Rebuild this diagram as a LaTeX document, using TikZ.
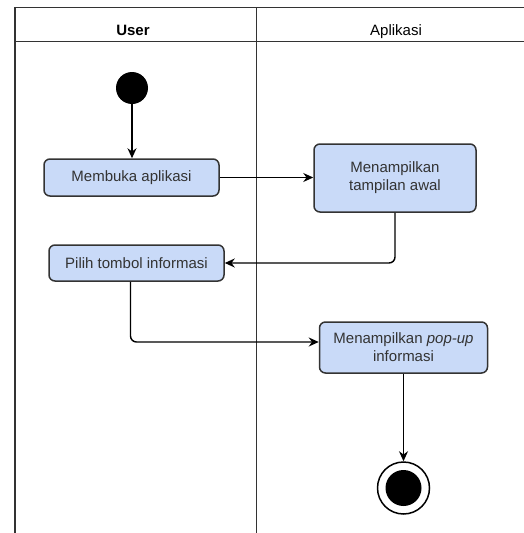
\documentclass[tikz,border=0pt]{standalone}
\usepackage{fontspec}
\setmainfont{Liberation Sans}
\usetikzlibrary{arrows.meta}
\definecolor{boxfill}{HTML}{C9DAF8}
\definecolor{edgegray}{HTML}{333333}
\begin{document}
\begin{tikzpicture}[x=1pt,y=-1pt,
  act/.style={draw=edgegray, line width=1.5pt, fill=boxfill, rounded corners=6pt, align=center,
    font=\fontsize{15}{18}\selectfont, text=edgegray, inner sep=0pt},
  flow/.style={draw=black, line width=1.4pt, -{Stealth[length=10pt,width=9pt]}, rounded corners=6pt},
  lane/.style={draw=edgegray, line width=1.6pt},
  head/.style={font=\fontsize{15}{17}\selectfont, text=black, anchor=base}]
\useasboundingbox (0,0) rectangle (524,533);
\fill[white] (0,0) rectangle (524,533);
% swimlanes
\draw[lane] (524,7.5) -- (15,7.5) -- (15,533);
\draw[lane] (15,41.5) -- (524,41.5);
\draw[lane] (256.5,7.5) -- (256.5,533);
\node[head, font=\bfseries\fontsize{15}{17}\selectfont] (huser) at (133,35) {User};
\node[head] (happ) at (396,35) {Aplikasi};
% nodes
\node[circle, fill=black, minimum size=32pt, inner sep=0pt] (start) at (132,88) {};
\node[act, minimum width=175pt, minimum height=37pt] (buka) at (131.5,177.5) {Membuka aplikasi};
\node[act, minimum width=162pt, minimum height=68pt] (awal) at (395,178) {Menampilkan\\tampilan awal};
\node[act, minimum width=175pt, minimum height=36pt] (pilih) at (136.5,263) {Pilih tombol informasi};
\node[act, minimum width=168pt, minimum height=51pt] (popup) at (403.5,347.5) {Menampilkan \textit{pop-up}\\informasi};
\node[circle, draw=black, line width=1.5pt, fill=white, minimum size=52pt, inner sep=0pt] (end) at (403.5,488) {};
\node[circle, fill=black, minimum size=36pt, inner sep=0pt] (endin) at (end.center) {};
% flows
\draw[flow] (start.south) -- (start.south |- buka.north);
\draw[flow] (buka.east) -- (buka.east -| awal.west);
\draw[flow] (awal.south) |- (pilih.east);
\draw[flow] ([xshift=-6pt]pilih.south) |- ([yshift=5.5pt]popup.west);
\draw[flow] (popup.south) -- (end.north);
\end{tikzpicture}
\end{document}
